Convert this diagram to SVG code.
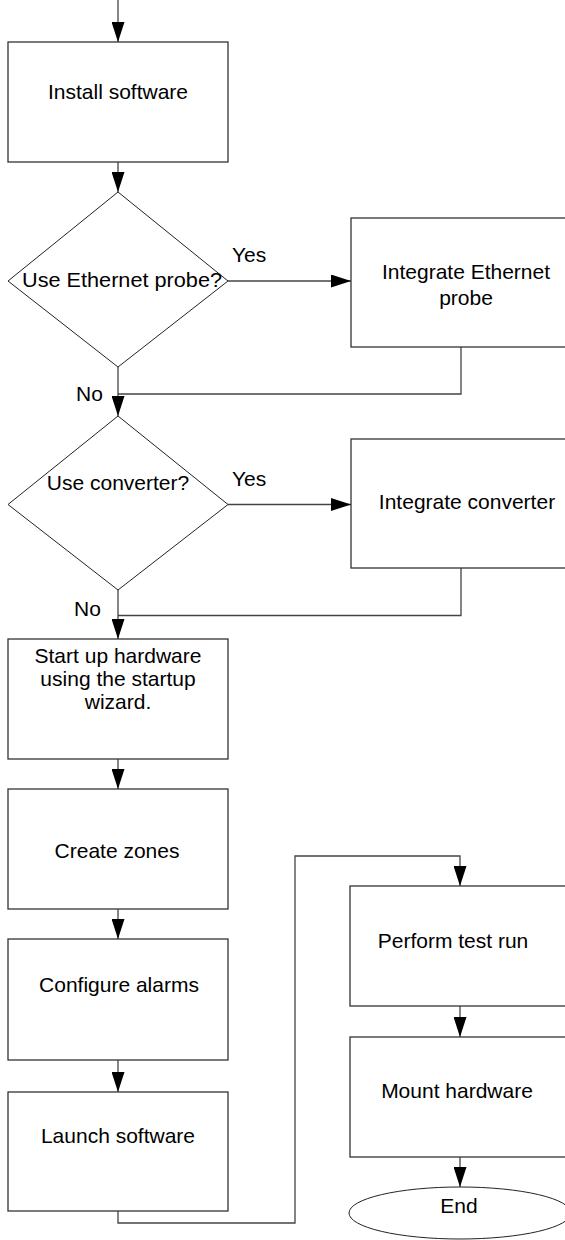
<svg xmlns="http://www.w3.org/2000/svg" width="565" height="1240" viewBox="0 0 565 1240">
<style>
.box{fill:#fff;stroke:#333;stroke-width:1.3}
.dia{fill:#fff;stroke:#222;stroke-width:1}
.ln{fill:none;stroke:#444;stroke-width:1.3}
text{font-family:"Liberation Sans",Arial,sans-serif;font-size:21px;fill:#000}
.c{text-anchor:middle}
</style>
<defs>
<marker id="ah" markerUnits="userSpaceOnUse" markerWidth="20" markerHeight="13" refX="20" refY="6.5" orient="auto">
<path d="M0,0 L20,6.5 L0,13 z" fill="#000"/>
</marker>
</defs>
<rect width="565" height="1240" fill="#fff"/>
<g id="connectors">
<path class="ln" d="M118,0 V42" marker-end="url(#ah)"/>
<path class="ln" d="M118,162 V192" marker-end="url(#ah)"/>
<path class="ln" d="M228,281 H351" marker-end="url(#ah)"/>
<path class="ln" d="M461,347 V394 H118"/>
<path class="ln" d="M118,367 V416" marker-end="url(#ah)"/>
<path class="ln" d="M228,504.5 H351" marker-end="url(#ah)"/>
<path class="ln" d="M461,568 V615.5 H118"/>
<path class="ln" d="M118,590 V639" marker-end="url(#ah)"/>
<path class="ln" d="M118,759 V789" marker-end="url(#ah)"/>
<path class="ln" d="M118,909 V939" marker-end="url(#ah)"/>
<path class="ln" d="M118,1060 V1092" marker-end="url(#ah)"/>
<path class="ln" d="M118,1211 V1223 H295 V856 H460 V886" marker-end="url(#ah)"/>
<path class="ln" d="M460,1006 V1037" marker-end="url(#ah)"/>
<path class="ln" d="M460,1157 V1187" marker-end="url(#ah)"/>
<text x="232" y="262">Yes</text>
<text x="76" y="401">No</text>
<text x="232" y="486">Yes</text>
<text x="74" y="616">No</text>
</g>
<g id="install">
<rect class="box" x="8" y="42" width="220" height="120"/>
<text class="c" x="118" y="99">Install software</text>
</g>
<g id="q-ethernet">
<polygon class="dia" points="118,192 228,281 118,367 8,281"/>
<text class="c" x="122" y="287" textLength="200" lengthAdjust="spacingAndGlyphs">Use Ethernet probe?</text>
</g>
<g id="integrate-ethernet">
<rect class="box" x="351" y="218" width="230" height="129"/>
<text class="c" x="466" y="279">Integrate Ethernet</text>
<text class="c" x="466" y="305">probe</text>
</g>
<g id="q-converter">
<polygon class="dia" points="118,416 228,504.5 118,590 8,504.5"/>
<text class="c" x="118" y="490">Use converter?</text>
</g>
<g id="integrate-converter">
<rect class="box" x="351" y="439" width="230" height="129"/>
<text class="c" x="467" y="509">Integrate converter</text>
</g>
<g id="startup">
<rect class="box" x="8" y="639" width="220" height="120"/>
<text class="c" x="118" y="663">Start up hardware</text>
<text class="c" x="118" y="686">using the startup</text>
<text class="c" x="118" y="709">wizard.</text>
</g>
<g id="zones">
<rect class="box" x="8" y="789" width="220" height="120"/>
<text class="c" x="117" y="858">Create zones</text>
</g>
<g id="alarms">
<rect class="box" x="8" y="939" width="220" height="121"/>
<text class="c" x="119" y="992">Configure alarms</text>
</g>
<g id="launch">
<rect class="box" x="8" y="1092" width="220" height="119"/>
<text class="c" x="118" y="1143">Launch software</text>
</g>
<g id="testrun">
<rect class="box" x="350" y="886" width="230" height="120"/>
<text class="c" x="453" y="948">Perform test run</text>
</g>
<g id="mount">
<rect class="box" x="350" y="1037" width="230" height="120"/>
<text class="c" x="457" y="1098">Mount hardware</text>
</g>
<g id="end">
<ellipse class="dia" cx="460" cy="1213" rx="111" ry="26"/>
<text class="c" x="459" y="1213">End</text>
</g>
</svg>
